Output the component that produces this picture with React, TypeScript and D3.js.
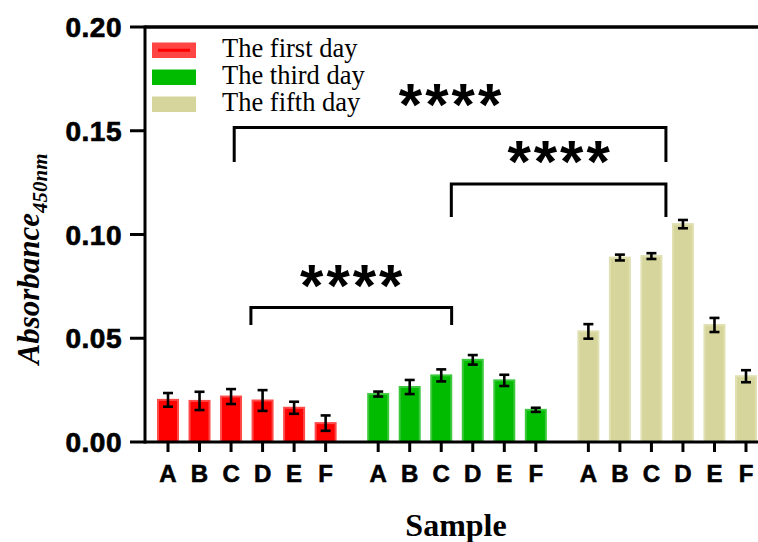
import React from "react";
import * as d3 from "d3";

const samples = ["A", "B", "C", "D", "E", "F"];
const seriesNames = ["The first day", "The third day", "The fifth day"];
const seriesColors = ["#ff0000", "#00bb00", "#d6d69c"];
const seriesStrokes = ["#ff4a4a", "#3cc83c", "#e0e0b2"];

const firstDay = [0.0203, 0.0198, 0.0219, 0.0200, 0.0165, 0.0091];
const firstDayErr = [0.0033, 0.0044, 0.0036, 0.0050, 0.0029, 0.0037];
const thirdDay = [0.0231, 0.0265, 0.0321, 0.0396, 0.0297, 0.0155];
const thirdDayErr = [0.0012, 0.0034, 0.0029, 0.0023, 0.0027, 0.0010];
const fifthDay = [0.0533, 0.0889, 0.0896, 0.1050, 0.0564, 0.0317];
const fifthDayErr = [0.0035, 0.0014, 0.0014, 0.0020, 0.0034, 0.0029];

const yTicks = [0, 0.05, 0.1, 0.15, 0.2];

// brackets: [fromGroup, fromOffset, toGroup, toOffset, level, drop]
const brackets = [
  { g1: 0, o1: 2.1, g2: 2, o2: 2.46, level: 0.1516, drop: 0.135, label: "****" },
  { g1: 1, o1: 2.32, g2: 2, o2: 2.46, level: 0.1243, drop: 0.1084, label: "****" },
  { g1: 0, o1: 2.63, g2: 1, o2: 2.33, level: 0.0648, drop: 0.0564, label: "****" },
];

const GROUP_SPAN = 6.667;

export default function App() {
  const W = 758;
  const H = 542;
  const left = 145;
  const x = d3.scaleLinear().domain([0, 2 * GROUP_SPAN + 5]).range([168, 746]);
  const y = d3.scaleLinear().domain([0, 0.2]).range([442, 27]);
  const pos = (g: number, i: number) => x(g * GROUP_SPAN + i);

  const series = [
    { vals: firstDay, errs: firstDayErr },
    { vals: thirdDay, errs: thirdDayErr },
    { vals: fifthDay, errs: fifthDayErr },
  ];
  const barW = 20;
  const capW = 10;

  return (
    <svg
      width={W}
      height={H}
      style={{ position: "absolute", left: 0, top: 0, background: "#fff" }}
    >
      {/* bars */}
      {series.map((s, g) =>
        s.vals.map((v, i) => {
          const cx = pos(g, i);
          return (
            <rect
              key={`b${g}-${i}`}
              x={cx - barW / 2}
              y={y(v)}
              width={barW}
              height={y(0) - y(v)}
              fill={seriesColors[g]}
              stroke={seriesStrokes[g]}
              strokeWidth={2}
            />
          );
        })
      )}
      {/* error bars */}
      {series.map((s, g) =>
        s.vals.map((v, i) => {
          const cx = pos(g, i);
          const e = s.errs[i];
          return (
            <g key={`e${g}-${i}`} stroke="#000" strokeWidth={2.6}>
              <line x1={cx} x2={cx} y1={y(v + e)} y2={y(v - e)} />
              <line x1={cx - capW / 2} x2={cx + capW / 2} y1={y(v + e)} y2={y(v + e)} />
              <line x1={cx - capW / 2} x2={cx + capW / 2} y1={y(v - e)} y2={y(v - e)} />
            </g>
          );
        })
      )}
      {/* axes */}
      <line x1={left} x2={left} y1={y(0.2) - 1.5} y2={y(0) + 1.5} stroke="#000" strokeWidth={3} />
      <line x1={left} x2={W} y1={y(0.2)} y2={y(0.2)} stroke="#000" strokeWidth={3.6} />
      <line x1={left} x2={W} y1={y(0)} y2={y(0)} stroke="#000" strokeWidth={3} />
      {yTicks.map((t) => (
        <g key={`yt${t}`}>
          <line x1={130} x2={left} y1={y(t)} y2={y(t)} stroke="#000" strokeWidth={3} />
          <text
            x={122}
            y={y(t) + 10}
            textAnchor="end"
            fontFamily="'Liberation Sans', Arial, sans-serif"
            fontWeight="bold"
            fontSize={28}
            letterSpacing={0.5}
            stroke="#000"
            strokeWidth={0.7}
          >
            {d3.format(".2f")(t)}
          </text>
        </g>
      ))}
      {series.map((s, g) =>
        samples.map((lab, i) => {
          const cx = pos(g, i);
          return (
            <g key={`xt${g}-${i}`}>
              <line x1={cx} x2={cx} y1={y(0)} y2={y(0) + 10} stroke="#000" strokeWidth={3} />
              <text
                x={cx}
                y={482}
                textAnchor="middle"
                fontFamily="'Liberation Sans', Arial, sans-serif"
                fontWeight="bold"
                fontSize={24}
                stroke="#000"
                strokeWidth={0.6}
              >
                {lab}
              </text>
            </g>
          );
        })
      )}
      {/* axis titles */}
      <text
        x={456}
        y={536}
        textAnchor="middle"
        fontFamily="'Liberation Serif', 'Times New Roman', serif"
        fontWeight="bold"
        fontSize={32}
      >
        Sample
      </text>
      <text
        transform={`translate(39,259) rotate(-90)`}
        textAnchor="middle"
        fontFamily="'Liberation Serif', 'Times New Roman', serif"
        fontWeight="bold"
        fontStyle="italic"
        fontSize={31}
      >
        Absorbance
        <tspan fontSize={21} dy={8}>
          450nm
        </tspan>
      </text>
      {/* significance brackets */}
      {brackets.map((b, k) => {
        const x1 = pos(b.g1, b.o1);
        const x2 = pos(b.g2, b.o2);
        const yl = y(b.level);
        const yd = y(b.drop);
        return (
          <g key={`br${k}`}>
            <path
              d={`M${x1},${yd} L${x1},${yl} L${x2},${yl} L${x2},${yd}`}
              fill="none"
              stroke="#000"
              strokeWidth={3}
            />
            <text
              x={(x1 + x2) / 2 + 1.5}
              y={yl - 2}
              textAnchor="middle"
              fontFamily="'Liberation Sans', Arial, sans-serif"
              fontWeight="bold"
              fontSize={60}
              letterSpacing={3}
            >
              {b.label}
            </text>
          </g>
        );
      })}
      {/* legend */}
      {seriesNames.map((name, k) => {
        const base = 57 + k * 27;
        return (
          <g key={`lg${k}`}>
            <rect x={152} y={base - 14.5} width={44} height={15.5} fill={k === 0 ? "#ff4444" : seriesColors[k]} />
            {k === 0 && <line x1={158} x2={190} y1={base - 6.75} y2={base - 6.75} stroke="#ff0000" strokeWidth={3} />}
            <text
              x={222}
              y={base}
              fontFamily="'Liberation Serif', 'Times New Roman', serif"
              fontSize={26.5}
            >
              {name}
            </text>
          </g>
        );
      })}
    </svg>
  );
}
